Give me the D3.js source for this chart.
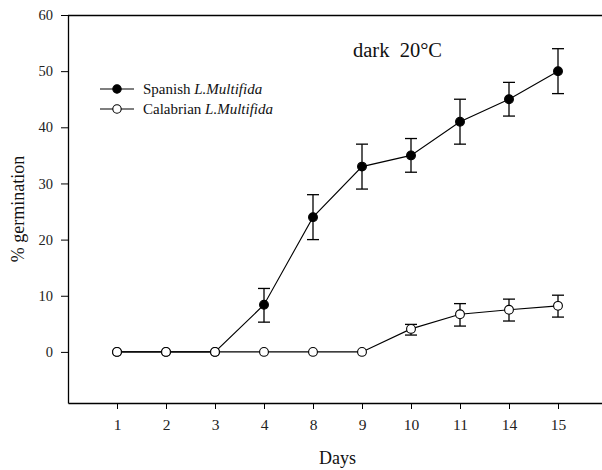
<!DOCTYPE html>
<html><head><meta charset="utf-8">
<script src="https://cdn.jsdelivr.net/npm/d3@7"></script>
<style>body{margin:0;background:#fff}svg{display:block}text{font-family:"Liberation Serif","Times New Roman",serif}</style>
</head><body>
<svg id="c" width="602" height="470"></svg>
<script>
const days = ["1","2","3","4","8","9","10","11","14","15"];
const spanish = [0,0,0,8.4,24,33,35,41,45,50];
const spanishLo = [null,null,null,5.3,20,29,32,37,42,46];
const spanishHi = [null,null,null,11.3,28,37,38,45,48,54];
const calabrian = [0,0,0,0,0,0,4.1,6.7,7.5,8.2];
const calabrianLo = [null,null,null,null,null,null,3.0,4.6,5.5,6.2];
const calabrianHi = [null,null,null,null,null,null,4.9,8.6,9.4,10.1];
const yTicks = [0,10,20,30,40,50,60];
const seriesNames = ["Spanish", "Calabrian"];

const svg = d3.select("#c");
const L = 68, R = 607, T = 15, B = 403;
const x = d3.scalePoint().domain(["", ...days, " "]).range([L, R]);
const y = d3.scaleLinear().domain([-9.1, 60]).range([B, T]);
const FF = "Liberation Serif";

const g = svg.append("g");
g.append("line").attr("x1",L).attr("x2",602).attr("y1",T+0.5).attr("y2",T+0.5).attr("stroke","#000").attr("stroke-width",1.3);

const xa = g.append("g").attr("transform",`translate(0,${B})`)
  .call(d3.axisBottom(x).tickValues(days).tickSize(6).tickSizeOuter(0).tickPadding(10));
xa.select(".domain").attr("stroke-width",1.3);
xa.selectAll("text").attr("font-size",15.5).attr("font-family",FF).attr("fill","#222");

const ya = g.append("g").attr("transform",`translate(${L},0)`)
  .call(d3.axisLeft(y).tickValues(yTicks).tickSize(7).tickSizeOuter(0).tickPadding(8));
ya.select(".domain").attr("stroke-width",1.3);
ya.selectAll("text").attr("font-size",14.5).attr("font-family",FF).attr("fill","#222");

function drawSeries(vals, lo, hi, fill){
  const pts = days.map((d,i)=>({d, v: vals[i], lo: lo[i], hi: hi[i]}));
  const line = d3.line().x(p=>x(p.d)).y(p=>y(p.v));
  g.append("path").datum(pts).attr("d", line).attr("fill","none").attr("stroke","#000").attr("stroke-width",1.1);
  const eb = g.append("g").attr("stroke","#000").attr("stroke-width",1.3);
  pts.filter(p=>p.lo!==null).forEach(p=>{
    const cx = x(p.d);
    eb.append("line").attr("x1",cx).attr("x2",cx).attr("y1",y(p.lo)).attr("y2",y(p.hi));
    eb.append("line").attr("x1",cx-6).attr("x2",cx+6).attr("y1",y(p.lo)).attr("y2",y(p.lo));
    eb.append("line").attr("x1",cx-6).attr("x2",cx+6).attr("y1",y(p.hi)).attr("y2",y(p.hi));
  });
  g.append("g").selectAll("circle").data(pts).join("circle")
    .attr("cx",p=>x(p.d)).attr("cy",p=>y(p.v)).attr("r",4.4)
    .attr("fill",fill).attr("stroke","#000").attr("stroke-width",1.1);
}
drawSeries(spanish, spanishLo, spanishHi, "#000");
drawSeries(calabrian, calabrianLo, calabrianHi, "#fff");

const leg = [{name:seriesNames[0], fill:"#000", y:89},{name:seriesNames[1], fill:"#fff", y:109}];
leg.forEach(l=>{
  g.append("line").attr("x1",100).attr("x2",134).attr("y1",l.y).attr("y2",l.y).attr("stroke","#000").attr("stroke-width",1.1);
  g.append("circle").attr("cx",117).attr("cy",l.y).attr("r",4.2).attr("fill",l.fill).attr("stroke","#000").attr("stroke-width",1.1);
  const t = g.append("text").attr("x",143).attr("y",l.y+5).attr("font-size",15).attr("font-family",FF).attr("fill","#111");
  t.append("tspan").text(l.name+" ");
  t.append("tspan").attr("font-style","italic").text("L.Multifida");
});

g.append("text").attr("x",353).attr("y",57).attr("font-size",20.5).attr("font-family",FF).attr("fill","#111").attr("xml:space","preserve").text("dark  20°C");

g.append("text").attr("x",(L+R)/2).attr("y",464).attr("text-anchor","middle").attr("font-size",18).attr("font-family",FF).attr("fill","#111").text("Days");
g.append("text").attr("transform",`translate(24,${(T+B)/2}) rotate(-90)`).attr("text-anchor","middle").attr("font-size",18).attr("font-family",FF).attr("fill","#111").text("% germination");
</script>
</body></html>
